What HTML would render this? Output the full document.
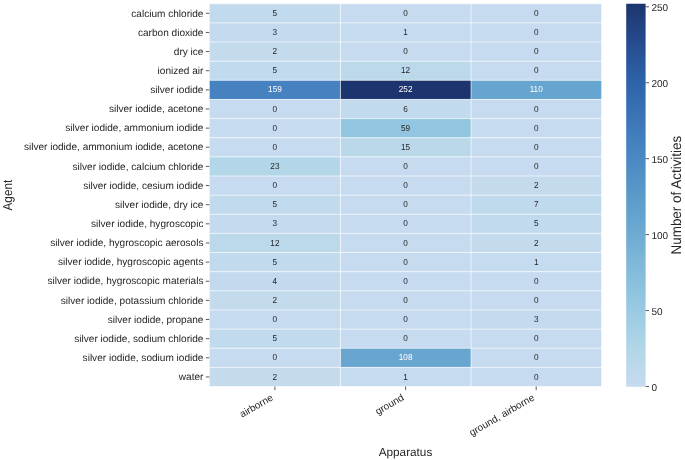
<!DOCTYPE html><html><head><meta charset="utf-8"><style>html,body{margin:0;padding:0;background:#fff}svg{display:block}text{font-family:"Liberation Sans",Arial,sans-serif;fill:#262626;text-rendering:geometricPrecision}</style></head><body>
<svg width="685" height="460" viewBox="0 0 685 460">
<rect width="685" height="460" fill="#fff"/>
<rect x="209.30" y="3.75" width="131.15" height="19.14" fill="rgb(194, 218, 237)"/>
<rect x="340.45" y="3.75" width="130.60" height="19.14" fill="rgb(198, 219, 239)"/>
<rect x="471.05" y="3.75" width="130.60" height="19.14" fill="rgb(198, 219, 239)"/>
<rect x="209.30" y="22.89" width="131.15" height="19.14" fill="rgb(196, 218, 238)"/>
<rect x="340.45" y="22.89" width="130.60" height="19.14" fill="rgb(197, 219, 239)"/>
<rect x="471.05" y="22.89" width="130.60" height="19.14" fill="rgb(198, 219, 239)"/>
<rect x="209.30" y="42.02" width="131.15" height="19.14" fill="rgb(196, 219, 238)"/>
<rect x="340.45" y="42.02" width="130.60" height="19.14" fill="rgb(198, 219, 239)"/>
<rect x="471.05" y="42.02" width="130.60" height="19.14" fill="rgb(198, 219, 239)"/>
<rect x="209.30" y="61.16" width="131.15" height="19.14" fill="rgb(194, 218, 237)"/>
<rect x="340.45" y="61.16" width="130.60" height="19.14" fill="rgb(188, 217, 235)"/>
<rect x="471.05" y="61.16" width="130.60" height="19.14" fill="rgb(198, 219, 239)"/>
<rect x="209.30" y="80.30" width="131.15" height="19.14" fill="rgb(70, 130, 192)"/>
<rect x="340.45" y="80.30" width="130.60" height="19.14" fill="rgb(29, 53, 110)"/>
<rect x="471.05" y="80.30" width="130.60" height="19.14" fill="rgb(102, 165, 207)"/>
<rect x="209.30" y="99.44" width="131.15" height="19.14" fill="rgb(198, 219, 239)"/>
<rect x="340.45" y="99.44" width="130.60" height="19.14" fill="rgb(193, 218, 237)"/>
<rect x="471.05" y="99.44" width="130.60" height="19.14" fill="rgb(198, 219, 239)"/>
<rect x="209.30" y="118.57" width="131.15" height="19.14" fill="rgb(198, 219, 239)"/>
<rect x="340.45" y="118.57" width="130.60" height="19.14" fill="rgb(146, 198, 224)"/>
<rect x="471.05" y="118.57" width="130.60" height="19.14" fill="rgb(198, 219, 239)"/>
<rect x="209.30" y="137.71" width="131.15" height="19.14" fill="rgb(198, 219, 239)"/>
<rect x="340.45" y="137.71" width="130.60" height="19.14" fill="rgb(186, 216, 234)"/>
<rect x="471.05" y="137.71" width="130.60" height="19.14" fill="rgb(198, 219, 239)"/>
<rect x="209.30" y="156.85" width="131.15" height="19.14" fill="rgb(179, 215, 232)"/>
<rect x="340.45" y="156.85" width="130.60" height="19.14" fill="rgb(198, 219, 239)"/>
<rect x="471.05" y="156.85" width="130.60" height="19.14" fill="rgb(198, 219, 239)"/>
<rect x="209.30" y="175.99" width="131.15" height="19.14" fill="rgb(198, 219, 239)"/>
<rect x="340.45" y="175.99" width="130.60" height="19.14" fill="rgb(198, 219, 239)"/>
<rect x="471.05" y="175.99" width="130.60" height="19.14" fill="rgb(196, 219, 238)"/>
<rect x="209.30" y="195.12" width="131.15" height="19.14" fill="rgb(194, 218, 237)"/>
<rect x="340.45" y="195.12" width="130.60" height="19.14" fill="rgb(198, 219, 239)"/>
<rect x="471.05" y="195.12" width="130.60" height="19.14" fill="rgb(192, 218, 237)"/>
<rect x="209.30" y="214.26" width="131.15" height="19.14" fill="rgb(196, 218, 238)"/>
<rect x="340.45" y="214.26" width="130.60" height="19.14" fill="rgb(198, 219, 239)"/>
<rect x="471.05" y="214.26" width="130.60" height="19.14" fill="rgb(194, 218, 237)"/>
<rect x="209.30" y="233.40" width="131.15" height="19.14" fill="rgb(188, 217, 235)"/>
<rect x="340.45" y="233.40" width="130.60" height="19.14" fill="rgb(198, 219, 239)"/>
<rect x="471.05" y="233.40" width="130.60" height="19.14" fill="rgb(196, 219, 238)"/>
<rect x="209.30" y="252.54" width="131.15" height="19.14" fill="rgb(194, 218, 237)"/>
<rect x="340.45" y="252.54" width="130.60" height="19.14" fill="rgb(198, 219, 239)"/>
<rect x="471.05" y="252.54" width="130.60" height="19.14" fill="rgb(197, 219, 239)"/>
<rect x="209.30" y="271.68" width="131.15" height="19.14" fill="rgb(195, 218, 238)"/>
<rect x="340.45" y="271.68" width="130.60" height="19.14" fill="rgb(198, 219, 239)"/>
<rect x="471.05" y="271.68" width="130.60" height="19.14" fill="rgb(198, 219, 239)"/>
<rect x="209.30" y="290.81" width="131.15" height="19.14" fill="rgb(196, 219, 238)"/>
<rect x="340.45" y="290.81" width="130.60" height="19.14" fill="rgb(198, 219, 239)"/>
<rect x="471.05" y="290.81" width="130.60" height="19.14" fill="rgb(198, 219, 239)"/>
<rect x="209.30" y="309.95" width="131.15" height="19.14" fill="rgb(198, 219, 239)"/>
<rect x="340.45" y="309.95" width="130.60" height="19.14" fill="rgb(198, 219, 239)"/>
<rect x="471.05" y="309.95" width="130.60" height="19.14" fill="rgb(196, 218, 238)"/>
<rect x="209.30" y="329.09" width="131.15" height="19.14" fill="rgb(194, 218, 237)"/>
<rect x="340.45" y="329.09" width="130.60" height="19.14" fill="rgb(198, 219, 239)"/>
<rect x="471.05" y="329.09" width="130.60" height="19.14" fill="rgb(198, 219, 239)"/>
<rect x="209.30" y="348.22" width="131.15" height="19.14" fill="rgb(198, 219, 239)"/>
<rect x="340.45" y="348.22" width="130.60" height="19.14" fill="rgb(104, 166, 208)"/>
<rect x="471.05" y="348.22" width="130.60" height="19.14" fill="rgb(198, 219, 239)"/>
<rect x="209.30" y="367.36" width="131.15" height="19.14" fill="rgb(196, 219, 238)"/>
<rect x="340.45" y="367.36" width="130.60" height="19.14" fill="rgb(197, 219, 239)"/>
<rect x="471.05" y="367.36" width="130.60" height="19.14" fill="rgb(198, 219, 239)"/>
<line x1="208.30" x2="602.65" y1="3.75" y2="3.75" stroke="#fff" stroke-width="0.62"/>
<line x1="208.30" x2="602.65" y1="22.89" y2="22.89" stroke="#fff" stroke-width="0.62"/>
<line x1="208.30" x2="602.65" y1="42.02" y2="42.02" stroke="#fff" stroke-width="0.62"/>
<line x1="208.30" x2="602.65" y1="61.16" y2="61.16" stroke="#fff" stroke-width="0.62"/>
<line x1="208.30" x2="602.65" y1="80.30" y2="80.30" stroke="#fff" stroke-width="0.62"/>
<line x1="208.30" x2="602.65" y1="99.44" y2="99.44" stroke="#fff" stroke-width="0.62"/>
<line x1="208.30" x2="602.65" y1="118.57" y2="118.57" stroke="#fff" stroke-width="0.62"/>
<line x1="208.30" x2="602.65" y1="137.71" y2="137.71" stroke="#fff" stroke-width="0.62"/>
<line x1="208.30" x2="602.65" y1="156.85" y2="156.85" stroke="#fff" stroke-width="0.62"/>
<line x1="208.30" x2="602.65" y1="175.99" y2="175.99" stroke="#fff" stroke-width="0.62"/>
<line x1="208.30" x2="602.65" y1="195.12" y2="195.12" stroke="#fff" stroke-width="0.62"/>
<line x1="208.30" x2="602.65" y1="214.26" y2="214.26" stroke="#fff" stroke-width="0.62"/>
<line x1="208.30" x2="602.65" y1="233.40" y2="233.40" stroke="#fff" stroke-width="0.62"/>
<line x1="208.30" x2="602.65" y1="252.54" y2="252.54" stroke="#fff" stroke-width="0.62"/>
<line x1="208.30" x2="602.65" y1="271.68" y2="271.68" stroke="#fff" stroke-width="0.62"/>
<line x1="208.30" x2="602.65" y1="290.81" y2="290.81" stroke="#fff" stroke-width="0.62"/>
<line x1="208.30" x2="602.65" y1="309.95" y2="309.95" stroke="#fff" stroke-width="0.62"/>
<line x1="208.30" x2="602.65" y1="329.09" y2="329.09" stroke="#fff" stroke-width="0.62"/>
<line x1="208.30" x2="602.65" y1="348.22" y2="348.22" stroke="#fff" stroke-width="0.62"/>
<line x1="208.30" x2="602.65" y1="367.36" y2="367.36" stroke="#fff" stroke-width="0.62"/>
<line x1="208.30" x2="602.65" y1="386.50" y2="386.50" stroke="#fff" stroke-width="0.62"/>
<line x1="209.30" x2="209.30" y1="2.75" y2="387.50" stroke="#fff" stroke-width="0.62"/>
<line x1="340.45" x2="340.45" y1="2.75" y2="387.50" stroke="#fff" stroke-width="0.62"/>
<line x1="471.05" x2="471.05" y1="2.75" y2="387.50" stroke="#fff" stroke-width="0.62"/>
<line x1="601.65" x2="601.65" y1="2.75" y2="387.50" stroke="#fff" stroke-width="0.62"/>
<text transform="translate(274.90,15.92) scale(1,1.06)" font-size="8.2" text-anchor="middle" style="fill:#262626">5</text>
<text transform="translate(405.60,15.92) scale(1,1.06)" font-size="8.2" text-anchor="middle" style="fill:#262626">0</text>
<text transform="translate(536.20,15.92) scale(1,1.06)" font-size="8.2" text-anchor="middle" style="fill:#262626">0</text>
<text transform="translate(274.90,35.06) scale(1,1.06)" font-size="8.2" text-anchor="middle" style="fill:#262626">3</text>
<text transform="translate(405.60,35.06) scale(1,1.06)" font-size="8.2" text-anchor="middle" style="fill:#262626">1</text>
<text transform="translate(536.20,35.06) scale(1,1.06)" font-size="8.2" text-anchor="middle" style="fill:#262626">0</text>
<text transform="translate(274.90,54.19) scale(1,1.06)" font-size="8.2" text-anchor="middle" style="fill:#262626">2</text>
<text transform="translate(405.60,54.19) scale(1,1.06)" font-size="8.2" text-anchor="middle" style="fill:#262626">0</text>
<text transform="translate(536.20,54.19) scale(1,1.06)" font-size="8.2" text-anchor="middle" style="fill:#262626">0</text>
<text transform="translate(274.90,73.33) scale(1,1.06)" font-size="8.2" text-anchor="middle" style="fill:#262626">5</text>
<text transform="translate(405.60,73.33) scale(1,1.06)" font-size="8.2" text-anchor="middle" style="fill:#262626">12</text>
<text transform="translate(536.20,73.33) scale(1,1.06)" font-size="8.2" text-anchor="middle" style="fill:#262626">0</text>
<text transform="translate(274.90,92.47) scale(1,1.06)" font-size="8.2" text-anchor="middle" style="fill:#ffffff">159</text>
<text transform="translate(405.60,92.47) scale(1,1.06)" font-size="8.2" text-anchor="middle" style="fill:#ffffff">252</text>
<text transform="translate(536.20,92.47) scale(1,1.06)" font-size="8.2" text-anchor="middle" style="fill:#ffffff">110</text>
<text transform="translate(274.90,111.61) scale(1,1.06)" font-size="8.2" text-anchor="middle" style="fill:#262626">0</text>
<text transform="translate(405.60,111.61) scale(1,1.06)" font-size="8.2" text-anchor="middle" style="fill:#262626">6</text>
<text transform="translate(536.20,111.61) scale(1,1.06)" font-size="8.2" text-anchor="middle" style="fill:#262626">0</text>
<text transform="translate(274.90,130.74) scale(1,1.06)" font-size="8.2" text-anchor="middle" style="fill:#262626">0</text>
<text transform="translate(405.60,130.74) scale(1,1.06)" font-size="8.2" text-anchor="middle" style="fill:#262626">59</text>
<text transform="translate(536.20,130.74) scale(1,1.06)" font-size="8.2" text-anchor="middle" style="fill:#262626">0</text>
<text transform="translate(274.90,149.88) scale(1,1.06)" font-size="8.2" text-anchor="middle" style="fill:#262626">0</text>
<text transform="translate(405.60,149.88) scale(1,1.06)" font-size="8.2" text-anchor="middle" style="fill:#262626">15</text>
<text transform="translate(536.20,149.88) scale(1,1.06)" font-size="8.2" text-anchor="middle" style="fill:#262626">0</text>
<text transform="translate(274.90,169.02) scale(1,1.06)" font-size="8.2" text-anchor="middle" style="fill:#262626">23</text>
<text transform="translate(405.60,169.02) scale(1,1.06)" font-size="8.2" text-anchor="middle" style="fill:#262626">0</text>
<text transform="translate(536.20,169.02) scale(1,1.06)" font-size="8.2" text-anchor="middle" style="fill:#262626">0</text>
<text transform="translate(274.90,188.16) scale(1,1.06)" font-size="8.2" text-anchor="middle" style="fill:#262626">0</text>
<text transform="translate(405.60,188.16) scale(1,1.06)" font-size="8.2" text-anchor="middle" style="fill:#262626">0</text>
<text transform="translate(536.20,188.16) scale(1,1.06)" font-size="8.2" text-anchor="middle" style="fill:#262626">2</text>
<text transform="translate(274.90,207.29) scale(1,1.06)" font-size="8.2" text-anchor="middle" style="fill:#262626">5</text>
<text transform="translate(405.60,207.29) scale(1,1.06)" font-size="8.2" text-anchor="middle" style="fill:#262626">0</text>
<text transform="translate(536.20,207.29) scale(1,1.06)" font-size="8.2" text-anchor="middle" style="fill:#262626">7</text>
<text transform="translate(274.90,226.43) scale(1,1.06)" font-size="8.2" text-anchor="middle" style="fill:#262626">3</text>
<text transform="translate(405.60,226.43) scale(1,1.06)" font-size="8.2" text-anchor="middle" style="fill:#262626">0</text>
<text transform="translate(536.20,226.43) scale(1,1.06)" font-size="8.2" text-anchor="middle" style="fill:#262626">5</text>
<text transform="translate(274.90,245.57) scale(1,1.06)" font-size="8.2" text-anchor="middle" style="fill:#262626">12</text>
<text transform="translate(405.60,245.57) scale(1,1.06)" font-size="8.2" text-anchor="middle" style="fill:#262626">0</text>
<text transform="translate(536.20,245.57) scale(1,1.06)" font-size="8.2" text-anchor="middle" style="fill:#262626">2</text>
<text transform="translate(274.90,264.71) scale(1,1.06)" font-size="8.2" text-anchor="middle" style="fill:#262626">5</text>
<text transform="translate(405.60,264.71) scale(1,1.06)" font-size="8.2" text-anchor="middle" style="fill:#262626">0</text>
<text transform="translate(536.20,264.71) scale(1,1.06)" font-size="8.2" text-anchor="middle" style="fill:#262626">1</text>
<text transform="translate(274.90,283.84) scale(1,1.06)" font-size="8.2" text-anchor="middle" style="fill:#262626">4</text>
<text transform="translate(405.60,283.84) scale(1,1.06)" font-size="8.2" text-anchor="middle" style="fill:#262626">0</text>
<text transform="translate(536.20,283.84) scale(1,1.06)" font-size="8.2" text-anchor="middle" style="fill:#262626">0</text>
<text transform="translate(274.90,302.98) scale(1,1.06)" font-size="8.2" text-anchor="middle" style="fill:#262626">2</text>
<text transform="translate(405.60,302.98) scale(1,1.06)" font-size="8.2" text-anchor="middle" style="fill:#262626">0</text>
<text transform="translate(536.20,302.98) scale(1,1.06)" font-size="8.2" text-anchor="middle" style="fill:#262626">0</text>
<text transform="translate(274.90,322.12) scale(1,1.06)" font-size="8.2" text-anchor="middle" style="fill:#262626">0</text>
<text transform="translate(405.60,322.12) scale(1,1.06)" font-size="8.2" text-anchor="middle" style="fill:#262626">0</text>
<text transform="translate(536.20,322.12) scale(1,1.06)" font-size="8.2" text-anchor="middle" style="fill:#262626">3</text>
<text transform="translate(274.90,341.26) scale(1,1.06)" font-size="8.2" text-anchor="middle" style="fill:#262626">5</text>
<text transform="translate(405.60,341.26) scale(1,1.06)" font-size="8.2" text-anchor="middle" style="fill:#262626">0</text>
<text transform="translate(536.20,341.26) scale(1,1.06)" font-size="8.2" text-anchor="middle" style="fill:#262626">0</text>
<text transform="translate(274.90,360.39) scale(1,1.06)" font-size="8.2" text-anchor="middle" style="fill:#262626">0</text>
<text transform="translate(405.60,360.39) scale(1,1.06)" font-size="8.2" text-anchor="middle" style="fill:#ffffff">108</text>
<text transform="translate(536.20,360.39) scale(1,1.06)" font-size="8.2" text-anchor="middle" style="fill:#262626">0</text>
<text transform="translate(274.90,379.53) scale(1,1.06)" font-size="8.2" text-anchor="middle" style="fill:#262626">2</text>
<text transform="translate(405.60,379.53) scale(1,1.06)" font-size="8.2" text-anchor="middle" style="fill:#262626">1</text>
<text transform="translate(536.20,379.53) scale(1,1.06)" font-size="8.2" text-anchor="middle" style="fill:#262626">0</text>
<line x1="205.80" x2="209.30" y1="13.32" y2="13.32" stroke="#262626" stroke-width="0.75"/>
<text transform="translate(203.45,16.52)" font-size="10.07" text-anchor="end">calcium chloride</text>
<line x1="205.80" x2="209.30" y1="32.46" y2="32.46" stroke="#262626" stroke-width="0.75"/>
<text transform="translate(203.45,35.66)" font-size="10.07" text-anchor="end">carbon dioxide</text>
<line x1="205.80" x2="209.30" y1="51.59" y2="51.59" stroke="#262626" stroke-width="0.75"/>
<text transform="translate(203.45,54.79)" font-size="10.07" text-anchor="end">dry ice</text>
<line x1="205.80" x2="209.30" y1="70.73" y2="70.73" stroke="#262626" stroke-width="0.75"/>
<text transform="translate(203.45,73.93)" font-size="10.07" text-anchor="end">ionized air</text>
<line x1="205.80" x2="209.30" y1="89.87" y2="89.87" stroke="#262626" stroke-width="0.75"/>
<text transform="translate(203.45,93.07)" font-size="10.07" text-anchor="end">silver iodide</text>
<line x1="205.80" x2="209.30" y1="109.01" y2="109.01" stroke="#262626" stroke-width="0.75"/>
<text transform="translate(203.45,112.21)" font-size="10.07" text-anchor="end">silver iodide, acetone</text>
<line x1="205.80" x2="209.30" y1="128.14" y2="128.14" stroke="#262626" stroke-width="0.75"/>
<text transform="translate(203.45,131.34)" font-size="10.07" text-anchor="end">silver iodide, ammonium iodide</text>
<line x1="205.80" x2="209.30" y1="147.28" y2="147.28" stroke="#262626" stroke-width="0.75"/>
<text transform="translate(203.45,150.48)" font-size="10.07" text-anchor="end">silver iodide, ammonium iodide, acetone</text>
<line x1="205.80" x2="209.30" y1="166.42" y2="166.42" stroke="#262626" stroke-width="0.75"/>
<text transform="translate(203.45,169.62)" font-size="10.07" text-anchor="end">silver iodide, calcium chloride</text>
<line x1="205.80" x2="209.30" y1="185.56" y2="185.56" stroke="#262626" stroke-width="0.75"/>
<text transform="translate(203.45,188.76)" font-size="10.07" text-anchor="end">silver iodide, cesium iodide</text>
<line x1="205.80" x2="209.30" y1="204.69" y2="204.69" stroke="#262626" stroke-width="0.75"/>
<text transform="translate(203.45,207.89)" font-size="10.07" text-anchor="end">silver iodide, dry ice</text>
<line x1="205.80" x2="209.30" y1="223.83" y2="223.83" stroke="#262626" stroke-width="0.75"/>
<text transform="translate(203.45,227.03)" font-size="10.07" text-anchor="end">silver iodide, hygroscopic</text>
<line x1="205.80" x2="209.30" y1="242.97" y2="242.97" stroke="#262626" stroke-width="0.75"/>
<text transform="translate(203.45,246.17)" font-size="10.07" text-anchor="end">silver iodide, hygroscopic aerosols</text>
<line x1="205.80" x2="209.30" y1="262.11" y2="262.11" stroke="#262626" stroke-width="0.75"/>
<text transform="translate(203.45,265.31)" font-size="10.07" text-anchor="end">silver iodide, hygroscopic agents</text>
<line x1="205.80" x2="209.30" y1="281.24" y2="281.24" stroke="#262626" stroke-width="0.75"/>
<text transform="translate(203.45,284.44)" font-size="10.07" text-anchor="end">silver iodide, hygroscopic materials</text>
<line x1="205.80" x2="209.30" y1="300.38" y2="300.38" stroke="#262626" stroke-width="0.75"/>
<text transform="translate(203.45,303.58)" font-size="10.07" text-anchor="end">silver iodide, potassium chloride</text>
<line x1="205.80" x2="209.30" y1="319.52" y2="319.52" stroke="#262626" stroke-width="0.75"/>
<text transform="translate(203.45,322.72)" font-size="10.07" text-anchor="end">silver iodide, propane</text>
<line x1="205.80" x2="209.30" y1="338.66" y2="338.66" stroke="#262626" stroke-width="0.75"/>
<text transform="translate(203.45,341.86)" font-size="10.07" text-anchor="end">silver iodide, sodium chloride</text>
<line x1="205.80" x2="209.30" y1="357.79" y2="357.79" stroke="#262626" stroke-width="0.75"/>
<text transform="translate(203.45,360.99)" font-size="10.07" text-anchor="end">silver iodide, sodium iodide</text>
<line x1="205.80" x2="209.30" y1="376.93" y2="376.93" stroke="#262626" stroke-width="0.75"/>
<text transform="translate(203.45,380.13)" font-size="10.07" text-anchor="end">water</text>
<line x1="274.90" x2="274.90" y1="386.50" y2="390.10" stroke="#262626" stroke-width="0.75"/>
<text transform="translate(273.90,399.50) rotate(-30)" font-size="10" text-anchor="end">airborne</text>
<line x1="405.60" x2="405.60" y1="386.50" y2="390.10" stroke="#262626" stroke-width="0.75"/>
<text transform="translate(404.60,399.50) rotate(-30)" font-size="10" text-anchor="end">ground</text>
<line x1="536.20" x2="536.20" y1="386.50" y2="390.10" stroke="#262626" stroke-width="0.75"/>
<text transform="translate(535.20,399.50) rotate(-30)" font-size="10" text-anchor="end">ground, airborne</text>
<text transform="translate(405.48,455.5)" font-size="11.75" text-anchor="middle">Apparatus</text>
<text transform="translate(11.9,195.12) rotate(-90) scale(1,1.09)" font-size="11.75" text-anchor="middle">Agent</text>
<defs><linearGradient id="cb" x1="0" y1="1" x2="0" y2="0"><stop offset="0.00%" stop-color="rgb(198, 219, 239)"/><stop offset="9.13%" stop-color="rgb(179, 215, 232)"/><stop offset="23.41%" stop-color="rgb(146, 198, 224)"/><stop offset="43.65%" stop-color="rgb(102, 165, 207)"/><stop offset="63.10%" stop-color="rgb(70, 130, 192)"/><stop offset="79.37%" stop-color="rgb(46, 100, 170)"/><stop offset="89.29%" stop-color="rgb(38, 77, 144)"/><stop offset="100.00%" stop-color="rgb(29, 53, 110)"/></linearGradient></defs>
<rect x="626.2" y="3.75" width="19.40" height="383.05" fill="url(#cb)"/>
<line x1="645.6" x2="649.0" y1="386.50" y2="386.50" stroke="#262626" stroke-width="0.75"/>
<text transform="translate(651.50,391.00)" font-size="10">0</text>
<line x1="645.6" x2="649.0" y1="310.56" y2="310.56" stroke="#262626" stroke-width="0.75"/>
<text transform="translate(651.50,315.06)" font-size="10">50</text>
<line x1="645.6" x2="649.0" y1="234.62" y2="234.62" stroke="#262626" stroke-width="0.75"/>
<text transform="translate(651.50,239.12)" font-size="10">100</text>
<line x1="645.6" x2="649.0" y1="158.67" y2="158.67" stroke="#262626" stroke-width="0.75"/>
<text transform="translate(651.50,163.17)" font-size="10">150</text>
<line x1="645.6" x2="649.0" y1="82.73" y2="82.73" stroke="#262626" stroke-width="0.75"/>
<text transform="translate(651.50,87.23)" font-size="10">200</text>
<line x1="645.6" x2="649.0" y1="6.79" y2="6.79" stroke="#262626" stroke-width="0.75"/>
<text transform="translate(651.50,11.29)" font-size="10">250</text>
<text transform="translate(681.2,195.12) rotate(-90) scale(1,1.05)" font-size="13.45" text-anchor="middle">Number of Activities</text>
</svg></body></html>
